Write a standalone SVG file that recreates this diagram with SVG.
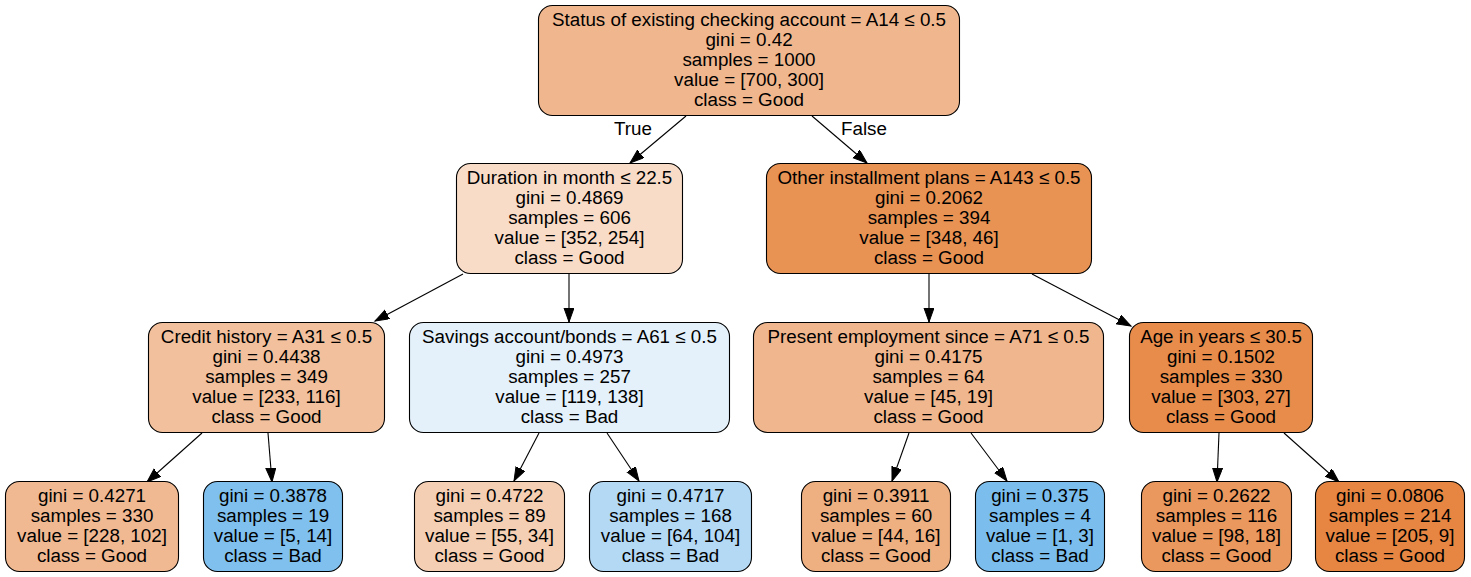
<svg xmlns="http://www.w3.org/2000/svg" width="1471" height="577" viewBox="0 0 1471 577">
<defs>
<style>
.n rect{stroke:#000;stroke-width:1.1;}
text{font-family:"Liberation Sans",Arial,Helvetica,sans-serif;font-size:18.8px;fill:#000;text-anchor:middle;}
.e line{stroke:#000;stroke-width:1.1;}
</style>
<marker id="ah" markerUnits="userSpaceOnUse" markerWidth="16" markerHeight="12" refX="14" refY="5" orient="auto">
<path d="M0,0 L14,5 L0,10 Z" fill="#000" stroke="#000" stroke-width="1"/>
</marker>
</defs>
<rect width="1471" height="577" fill="#fff"/>
<g id="edges" class="e">
<line x1="686" y1="116" x2="630" y2="163" marker-end="url(#ah)"/>
<line x1="812" y1="116" x2="867" y2="163" marker-end="url(#ah)"/>
<line x1="463" y1="274" x2="375" y2="321" marker-end="url(#ah)"/>
<line x1="569" y1="274" x2="569" y2="322" marker-end="url(#ah)"/>
<line x1="929" y1="274" x2="929" y2="322" marker-end="url(#ah)"/>
<line x1="1032" y1="274" x2="1131" y2="326" marker-end="url(#ah)"/>
<line x1="202" y1="433" x2="147" y2="482" marker-end="url(#ah)"/>
<line x1="268" y1="433" x2="272" y2="482" marker-end="url(#ah)"/>
<line x1="539" y1="433" x2="514" y2="481" marker-end="url(#ah)"/>
<line x1="607" y1="433" x2="639" y2="481" marker-end="url(#ah)"/>
<line x1="909" y1="433" x2="892" y2="481" marker-end="url(#ah)"/>
<line x1="971" y1="433" x2="1007" y2="481" marker-end="url(#ah)"/>
<line x1="1219" y1="433" x2="1217" y2="482" marker-end="url(#ah)"/>
<line x1="1284" y1="433" x2="1339" y2="482" marker-end="url(#ah)"/>
<text x="633" y="135">True</text>
<text x="864" y="135">False</text>
</g>
<g id="n0" class="n">
<rect x="538.5" y="5.5" width="421" height="110" rx="14" fill="#f0b78e"/>
<text x="749" y="26">Status of existing checking account = A14 ≤ 0.5</text>
<text x="749" y="46">gini = 0.42</text>
<text x="749" y="66">samples = 1000</text>
<text x="749" y="86">value = [700, 300]</text>
<text x="749" y="106">class = Good</text>
</g>
<g id="n1" class="n">
<rect x="456.5" y="163.5" width="226" height="110" rx="14" fill="#f8dcc8"/>
<text x="569.5" y="184">Duration in month ≤ 22.5</text>
<text x="569.5" y="204">gini = 0.4869</text>
<text x="569.5" y="224">samples = 606</text>
<text x="569.5" y="244">value = [352, 254]</text>
<text x="569.5" y="264">class = Good</text>
</g>
<g id="n8" class="n">
<rect x="766.5" y="163.5" width="325" height="110" rx="14" fill="#e89253"/>
<text x="929" y="184">Other installment plans = A143 ≤ 0.5</text>
<text x="929" y="204">gini = 0.2062</text>
<text x="929" y="224">samples = 394</text>
<text x="929" y="244">value = [348, 46]</text>
<text x="929" y="264">class = Good</text>
</g>
<g id="n2" class="n">
<rect x="148.5" y="322.5" width="236" height="110" rx="14" fill="#f2c09c"/>
<text x="266.5" y="343">Credit history = A31 ≤ 0.5</text>
<text x="266.5" y="363">gini = 0.4438</text>
<text x="266.5" y="383">samples = 349</text>
<text x="266.5" y="403">value = [233, 116]</text>
<text x="266.5" y="423">class = Good</text>
</g>
<g id="n5" class="n">
<rect x="409.5" y="322.5" width="320" height="110" rx="14" fill="#e4f1fb"/>
<text x="569.5" y="343">Savings account/bonds = A61 ≤ 0.5</text>
<text x="569.5" y="363">gini = 0.4973</text>
<text x="569.5" y="383">samples = 257</text>
<text x="569.5" y="403">value = [119, 138]</text>
<text x="569.5" y="423">class = Bad</text>
</g>
<g id="n9" class="n">
<rect x="753.5" y="322.5" width="350" height="110" rx="14" fill="#f0b68d"/>
<text x="928.5" y="343">Present employment since = A71 ≤ 0.5</text>
<text x="928.5" y="363">gini = 0.4175</text>
<text x="928.5" y="383">samples = 64</text>
<text x="928.5" y="403">value = [45, 19]</text>
<text x="928.5" y="423">class = Good</text>
</g>
<g id="n12" class="n">
<rect x="1129.5" y="322.5" width="183" height="110" rx="14" fill="#e78c4b"/>
<text x="1221" y="343">Age in years ≤ 30.5</text>
<text x="1221" y="363">gini = 0.1502</text>
<text x="1221" y="383">samples = 330</text>
<text x="1221" y="403">value = [303, 27]</text>
<text x="1221" y="423">class = Good</text>
</g>
<g id="n3" class="n">
<rect x="5.5" y="481.5" width="173" height="90" rx="14" fill="#f1b992"/>
<text x="92" y="502">gini = 0.4271</text>
<text x="92" y="522">samples = 330</text>
<text x="92" y="542">value = [228, 102]</text>
<text x="92" y="562">class = Good</text>
</g>
<g id="n4" class="n">
<rect x="203.5" y="481.5" width="139" height="90" rx="14" fill="#80c0ee"/>
<text x="273" y="502">gini = 0.3878</text>
<text x="273" y="522">samples = 19</text>
<text x="273" y="542">value = [5, 14]</text>
<text x="273" y="562">class = Bad</text>
</g>
<g id="n6" class="n">
<rect x="414.5" y="481.5" width="150" height="90" rx="14" fill="#f5cfb3"/>
<text x="489.5" y="502">gini = 0.4722</text>
<text x="489.5" y="522">samples = 89</text>
<text x="489.5" y="542">value = [55, 34]</text>
<text x="489.5" y="562">class = Good</text>
</g>
<g id="n7" class="n">
<rect x="589.5" y="481.5" width="162" height="90" rx="14" fill="#b3d9f5"/>
<text x="670.5" y="502">gini = 0.4717</text>
<text x="670.5" y="522">samples = 168</text>
<text x="670.5" y="542">value = [64, 104]</text>
<text x="670.5" y="562">class = Bad</text>
</g>
<g id="n10" class="n">
<rect x="801.5" y="481.5" width="149" height="90" rx="14" fill="#eeaf81"/>
<text x="876" y="502">gini = 0.3911</text>
<text x="876" y="522">samples = 60</text>
<text x="876" y="542">value = [44, 16]</text>
<text x="876" y="562">class = Good</text>
</g>
<g id="n11" class="n">
<rect x="975.5" y="481.5" width="129" height="90" rx="14" fill="#7bbeee"/>
<text x="1040" y="502">gini = 0.375</text>
<text x="1040" y="522">samples = 4</text>
<text x="1040" y="542">value = [1, 3]</text>
<text x="1040" y="562">class = Bad</text>
</g>
<g id="n13" class="n">
<rect x="1141.5" y="481.5" width="150" height="90" rx="14" fill="#ea985d"/>
<text x="1216.5" y="502">gini = 0.2622</text>
<text x="1216.5" y="522">samples = 116</text>
<text x="1216.5" y="542">value = [98, 18]</text>
<text x="1216.5" y="562">class = Good</text>
</g>
<g id="n14" class="n">
<rect x="1315.5" y="481.5" width="149" height="90" rx="14" fill="#e68642"/>
<text x="1390" y="502">gini = 0.0806</text>
<text x="1390" y="522">samples = 214</text>
<text x="1390" y="542">value = [205, 9]</text>
<text x="1390" y="562">class = Good</text>
</g>
</svg>
